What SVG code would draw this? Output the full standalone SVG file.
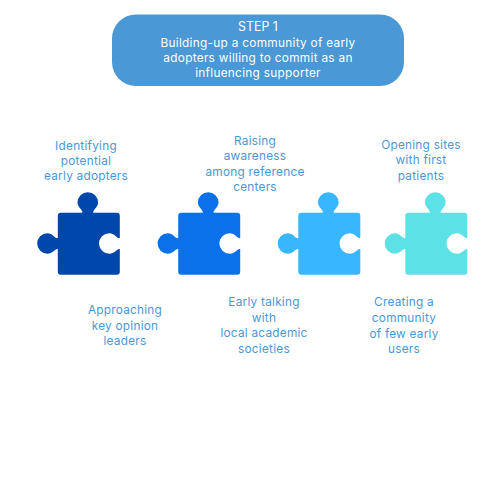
<svg xmlns="http://www.w3.org/2000/svg" width="500" height="500" viewBox="0 0 500 500">
<style>
text{font-family:"Inter","Open Sans","Liberation Sans",sans-serif;text-anchor:middle}
.h{fill:#fff;font-size:11.8px;letter-spacing:.3px}
.s{fill:#fff;font-size:12.4px}
.l{fill:#4a98d6;font-size:11.8px;letter-spacing:.25px}
</style>
<defs>
<path id="piece" d="M3,0H24.5C25.5,-2.5 19.7,-5.5 19.7,-10.3A10.3,10.3 0 1 1 40.3,-10.3C40.3,-5.5 34.5,-2.5 35.5,0H59A3,3 0 0 1 62,3V25.3C59.5,26.3 57,20.4 51.5,20.4A10.3,10.3 0 0 0 51.5,41C57,41 59.5,35.3 62,36.3V59A3,3 0 0 1 59,62H3A3,3 0 0 1 0,59V36.3C-2.5,35.3 -5,41 -10.3,41A10.3,10.3 0 0 1 -10.3,20.4C-5,20.4 -2.5,26.3 0,25.3V3A3,3 0 0 1 3,0Z"/>
</defs>
<rect width="500" height="500" fill="#fff"/>
<g id="header">
<rect x="112" y="14.5" width="292" height="71.5" rx="24" fill="#4a98d6"/>
<text class="s" x="258" y="31">STEP 1</text>
<text class="h" x="258" y="47">Building-up a community of early</text>
<text class="h" x="258" y="62">adopters willing to commit as an</text>
<text class="h" x="258" y="77">influencing supporter</text>
</g>
<g id="connectors"/>
<g id="piece1"><use href="#piece" x="57.8" y="212.8" fill="#0047ab"/>
<text class="l" x="86" y="150">Identifying</text><text class="l" x="86" y="165">potential</text><text class="l" x="86" y="180">early adopters</text>
<text class="l" x="125" y="314">Approaching</text><text class="l" x="125" y="330">key opinion</text><text class="l" x="125" y="345">leaders</text></g>
<g id="piece2"><use href="#piece" x="178.2" y="212.8" fill="#0a71eb"/>
<text class="l" x="255" y="145">Raising</text><text class="l" x="255" y="160">awareness</text><text class="l" x="255" y="176">among reference</text><text class="l" x="255" y="191">centers</text>
<text class="l" x="264" y="306">Early talking</text><text class="l" x="264" y="322">with</text><text class="l" x="264" y="337">local academic</text><text class="l" x="264" y="353">societies</text></g>
<g id="piece3"><use href="#piece" x="298.3" y="212.8" fill="#38b6ff"/>
<text class="l" x="421" y="149">Opening sites</text><text class="l" x="421" y="164">with first</text><text class="l" x="421" y="180">patients</text>
<text class="l" x="404" y="306">Creating a</text><text class="l" x="404" y="322">community</text><text class="l" x="404" y="338">of few early</text><text class="l" x="404" y="353">users</text></g>
<g id="piece4"><use href="#piece" x="405.3" y="212.8" fill="#5ce1e6"/></g>
</svg>
